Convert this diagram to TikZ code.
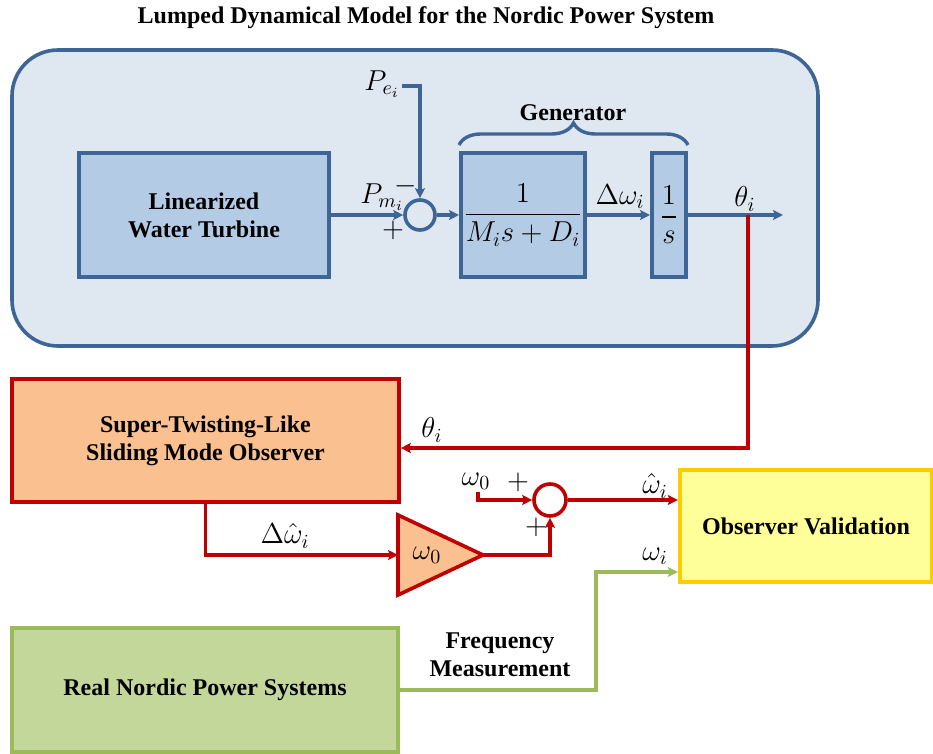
\documentclass[tikz,border=0pt]{standalone}
\usepackage{amsmath}
\usepackage{fontspec}
\setmainfont{Liberation Serif}
\usepackage{xcolor}
\usepackage{tikz}
\usetikzlibrary{positioning, arrows.meta, shapes.geometric, decorations.pathreplacing, calc}

\definecolor{bdblue}{HTML}{3D6596}
\definecolor{outfill}{HTML}{DFE7F1}
\definecolor{blkfill}{HTML}{B4CBE6}
\definecolor{obsred}{HTML}{C00000}
\definecolor{obsfill}{HTML}{FAC090}
\definecolor{valfill}{HTML}{FFFF99}
\definecolor{valdraw}{HTML}{FFCC00}
\definecolor{msfill}{HTML}{C4D79B}
\definecolor{msgreen}{HTML}{9BBB59}

\begin{document}
\begin{tikzpicture}[
    x=0.5pt, y=-0.5pt,
    every node/.style={font=\fontsize{14}{16}\selectfont},
    txt/.style={font=\fontsize{12}{14}\selectfont\bfseries, align=center},
    outer/.style={draw=bdblue, fill=outfill, line width=1.8pt, rounded corners=23pt, minimum width=403pt, minimum height=148pt},
    block/.style={draw=bdblue, fill=blkfill, line width=2pt, inner sep=0pt, minimum height=62pt},
    obsbox/.style={draw=obsred, fill=obsfill, line width=1.8pt, inner sep=0pt, minimum width=193.5pt, minimum height=61.5pt},
    valbox/.style={draw=valdraw, fill=valfill, line width=2.2pt, inner sep=0pt, minimum width=126pt, minimum height=56pt},
    realbox/.style={draw=msgreen, fill=msfill, line width=1.8pt, inner sep=0pt, minimum width=193pt, minimum height=62pt},
    sumb/.style={circle, draw=bdblue, line width=1.8pt, minimum size=15pt, inner sep=0pt},
    sumr/.style={sumb, draw=obsred, minimum size=16pt},
    gainbox/.style={draw=obsred, fill=obsfill, line width=1.8pt, line join=miter},
    arr/.style={-{Stealth[length=5pt, width=5pt, inset=1pt]}, line width=1.7pt, draw=bdblue},
    rarr/.style={arr, draw=obsred},
    garr/.style={arr, draw=msgreen},
    brc/.style={draw=bdblue, line width=1.7pt, decorate, decoration={brace, amplitude=11pt}}
]
\useasboundingbox (0,0) rectangle (933,754);

% Title
\node[txt] (title) at (426,18) {Lumped Dynamical Model for the Nordic Power System};

% Lumped model
\node[outer] (model) at (415,198) {};
\node[block, txt, minimum width=125pt] (turb) at (204,215) {Linearized\\Water Turbine};
\node[sumb] (sum1) at (420,215) {};
\node[block, minimum width=62pt] (gen) at (523,215) {$\dfrac{1}{M_i s + D_i}$};
\node[block, minimum width=17pt] (integ) at (669,215) {$\dfrac{1}{s}$};
\coordinate (pe) at (402,86);
\coordinate (thout) at (783,215);
\coordinate (tap) at (748,215);

\draw[arr] (turb) -- (sum1);
\draw[arr] (pe) -| (sum1.north);
\draw[arr] (sum1) -- (gen);
\draw[arr] (gen) -- (integ);
\draw[arr] (integ) -- (thout);
\draw[brc] ([yshift=3pt]gen.north west) -- ([yshift=3pt]integ.north east);

\node (pei) at (382,84) {$P_{e_i}$};
\node (pmi) at (382,197) {$P_{m_i}$};
\node (plus1) at (393,230) {$+$};
\node (minus1) at (406,186) {$-$};
\node (dw) at (620,197) {$\Delta\omega_i$};
\node (th1) at (745,199) {$\theta_i$};
\node[txt] (genlbl) at (573,113) {Generator};

% Observer
\node[obsbox, txt] (obs) at (205.5,440.5) {Super-Twisting-Like\\Sliding Mode Observer};
\coordinate (gin) at (398,555);
\coordinate (gtip) at (483,555);
\draw[gainbox] (398,515) -- (gtip) -- (398,595) -- cycle;
\node (gain) at (427,555) {$\omega_0$};
\node[sumr] (sum2) at (550,500) {};
\coordinate (w0) at (478,492);

\draw[rarr] (tap) |- ($(obs.east)+(0,7.5)$);
\draw[rarr] (obs.south) |- (gin);
\draw[rarr] (gtip) -| (sum2.south);
\draw[rarr] (w0) |- (sum2.west);

\node (th2) at (432,430) {$\theta_i$};
\node (dwh) at (285,536) {$\Delta\hat{\omega}_i$};
\node (w0lbl) at (476,481) {$\omega_0$};
\node (plus2) at (518,482) {$+$};
\node (plus3) at (536,527) {$+$};

% Validation
\node[valbox, txt] (val) at (806,526) {Observer Validation};
\node[realbox, txt] (real) at (205,690) {Real Nordic Power Systems};
\coordinate (bend) at (596,572);

\draw[rarr] (sum2.east) -- (sum2.east -| val.west);
\draw[garr] (real.east) -| (bend) -- (bend -| val.west);

\node (whi) at (655,486) {$\hat{\omega}_i$};
\node (wi) at (655,556) {$\omega_i$};
\node[txt] (freq) at (500,655) {Frequency\\Measurement};
\end{tikzpicture}
\end{document}
